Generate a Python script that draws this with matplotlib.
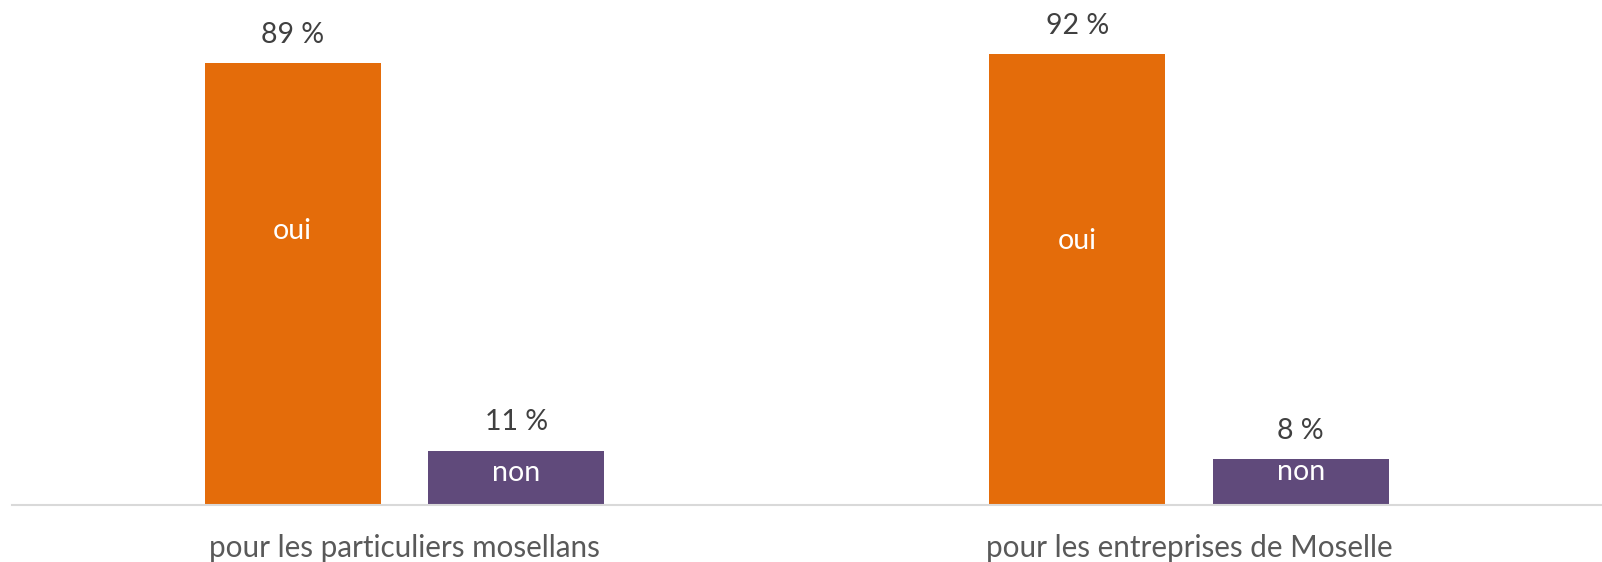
import matplotlib
matplotlib.use("Agg")
import matplotlib.pyplot as plt
import numpy as np

categories = ["pour les particuliers mosellans", "pour les entreprises de Moselle"]
# bar heights
oui = [89.0, 90.8]
non = [10.9, 9.2]
value_labels_oui = ["89 %", "92 %"]
value_labels_non = ["11 %", "8 %"]

plt.rcParams['font.family'] = ['Lato', 'DejaVu Sans']

W, H = 1602, 562
fig = plt.figure(figsize=(W/100, H/100), dpi=100)
ax = fig.add_axes([12/W, (H-505)/H, (W-12)/W, 505/H])

x = np.arange(len(categories))
off = 0.1425
bw = 0.2245
c_oui = "#E46C0A"
c_non = "#604A7B"
b1 = ax.bar(x - off, oui, bw, color=c_oui, zorder=2)
b2 = ax.bar(x + off, non, bw, color=c_non, zorder=2)

ax.set_xlim(-0.5003, 1.5265)
ax.set_ylim(0, 101.7)

for rect, lab in zip(b1, value_labels_oui):
    ax.annotate(lab, (rect.get_x()+rect.get_width()/2, rect.get_height()),
                xytext=(0, 20.5), textcoords="offset points", ha="center", va="center",
                fontsize=20.5, color="#404040")
for rect, lab in zip(b2, value_labels_non):
    ax.annotate(lab, (rect.get_x()+rect.get_width()/2, rect.get_height()),
                xytext=(0, 20.5), textcoords="offset points", ha="center", va="center",
                fontsize=20.5, color="#404040")

# series name labels inside bars
oui_label_frac = [0.62, 0.585]
for rect, fr in zip(b1, oui_label_frac):
    ax.text(rect.get_x()+rect.get_width()/2, rect.get_height()*fr, "oui",
            ha="center", va="center", fontsize=20.5, color="white")
non_label_frac = [0.6, 0.73]
for rect, fr in zip(b2, non_label_frac):
    ax.text(rect.get_x()+rect.get_width()/2, rect.get_height()*fr, "non",
            ha="center", va="center", fontsize=20.5, color="white")

ax.set_yticks([])
ax.set_xticks(x)
ax.set_xticklabels(categories, fontsize=21.3, color="#595959")
ax.tick_params(axis="x", length=0, pad=21)
for s in ["top", "left", "right"]:
    ax.spines[s].set_visible(False)
ax.spines["bottom"].set_color("#D9D9D9")
ax.spines["bottom"].set_linewidth(1.5)

fig.savefig("out.png", dpi=100)
